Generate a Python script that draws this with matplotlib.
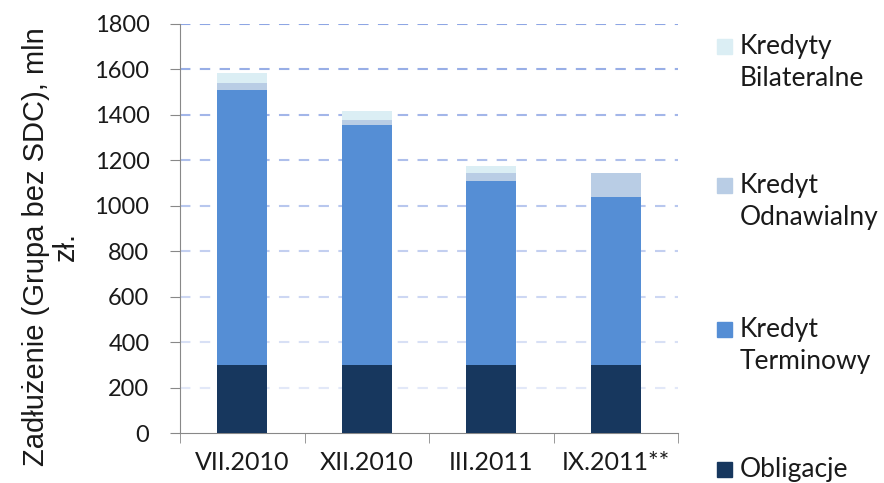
import matplotlib.pyplot as plt
from matplotlib.patches import Rectangle
import numpy as np

# zadłużenie grupy w mln zł, w podziale na źródła finansowania
okresy = ['VII.2010', 'XII.2010', 'III.2011', 'IX.2011**']
obligacje = [300, 300, 300, 300]
kredyt_terminowy = [1210, 1055, 810, 740]
kredyt_odnawialny = [30, 22, 35, 105]
kredyty_bilateralne = [45, 39, 31, 0]

serie = [
    (['Obligacje'], obligacje, '#17375e'),
    (['Kredyt', 'Terminowy'], kredyt_terminowy, '#558ed5'),
    (['Kredyt', 'Odnawialny'], kredyt_odnawialny, '#b9cde5'),
    (['Kredyty', 'Bilateralne'], kredyty_bilateralne, '#dbeef4'),
]

fig = plt.figure(figsize=(8.84, 4.83), dpi=100)
ax = fig.add_axes([180 / 884, 50 / 483, 498 / 884, 409 / 483])

x = np.arange(len(okresy))
dol = np.zeros(len(okresy))
for nazwa, wart, kolor in serie:
    ax.bar(x, wart, bottom=dol, width=0.4, color=kolor, zorder=3)
    dol += np.array(wart)

ax.set_xlim(-0.5, len(okresy) - 0.5)
ax.set_ylim(0, 1800)
yticks = list(range(0, 1801, 200))
ax.set_yticks(yticks)

# linie siatki bledną ku dołowi
for y in yticks[1:]:
    a = 0.25 + 0.75 * (y - 200) / 1600
    ax.axhline(y, color='#8ea6e4', alpha=a, linestyle=(0, (5, 4.5)),
               linewidth=1.5, zorder=1)

ax.set_xticks(x)
ax.set_xticklabels(okresy, fontfamily='Lato', fontsize=18, color='#1a1a1a')
ax.set_xticks(np.arange(-0.5, len(okresy)), minor=True)
ax.tick_params(axis='x', which='major', length=0, pad=13)
ax.tick_params(axis='x', which='minor', length=7, color='#888888')
ax.tick_params(axis='y', length=7, color='#888888', labelsize=17, labelcolor='#1a1a1a', pad=15)
for lab in ax.get_yticklabels():
    lab.set_fontfamily('Lato')

for s in ['top', 'right']:
    ax.spines[s].set_visible(False)
ax.spines['left'].set_color('#888888')
ax.spines['bottom'].set_color('#888888')

fig.text(0.058, 0.49, 'Zadłużenie (Grupa bez SDC), mln\nzł.', rotation=90,
         ha='center', va='center', fontsize=21, fontfamily='Liberation Sans',
         color='#1a1a1a', linespacing=1.1)

# legenda po prawej stronie, od góry; y = linia bazowa pierwszego wiersza
baza = [54, 193, 337, 477]
for (linie, wart, kolor), by in zip(serie[::-1], baza):
    yf = 1 - by / 483
    fig.patches.append(Rectangle((717 / 884, yf), 15 / 884, 15 / 483,
                                 transform=fig.transFigure, color=kolor, figure=fig))
    for i, t in enumerate(linie):
        fig.text(740 / 884, yf - i * 32 / 483, t, ha='left', va='baseline',
                 fontsize=19, fontfamily='Lato', color='#1a1a1a')

fig.savefig('out.png', dpi=100)
